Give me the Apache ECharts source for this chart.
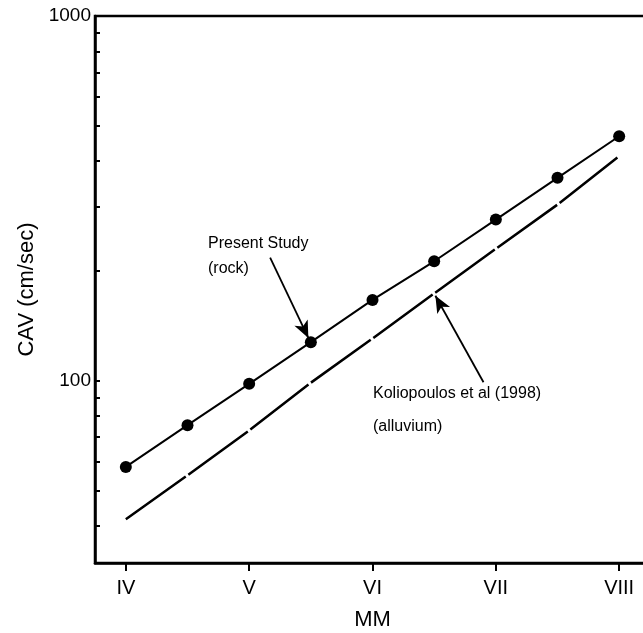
<!DOCTYPE html>
<html>
<head>
<meta charset="utf-8">
<script src="https://cdn.jsdelivr.net/npm/echarts@6/dist/echarts.min.js"></script>
<style>
html,body{margin:0;padding:0;background:#fff}
#main{width:643px;height:633px}
</style>
</head>
<body>
<div id="main"></div>
<script>
// MM intensity, half steps
var mmSteps = [4, 4.5, 5, 5.5, 6, 6.5, 7, 7.5, 8];
// Present Study (rock)
var rockCav = [58, 75.5, 98, 127.5, 166.5, 212.5, 276.5, 360, 468];
// Koliopoulos et al (1998) (alluvium)
var alluviumCav = [41.7, 55, 73, 98.7, 130.5, 173.5, 230, 304, 413];

var mmTicks = [4, 5, 6, 7, 8];
var mmLabels = ['IV', 'V', 'VI', 'VII', 'VIII'];
var cavTicks = [40, 50, 60, 70, 80, 90, 100, 200, 300, 400, 500, 600, 700, 800, 900, 1000];
var cavLabels = [100, 1000];

var tickFont = "'Liberation Sans', Arial, sans-serif";
var textFont = "'Liberation Sans', Arial, sans-serif";

function pairs(xs, ys){
	return xs.map(function(x, i){ return [x, ys[i]]; });
}

var chart = echarts.init(document.getElementById('main'));

var option = {
	backgroundColor: '#fff',
	animation: false,
	grid: {
		left: 95,
		right: -7,
		top: 16,
		bottom: 70,
		outerBoundsMode: 'none',
		containLabel: false,
		show: true,
		borderColor: '#000',
		borderWidth: 2.5
	},
	xAxis: {
		type: 'value',
		min: 3.75,
		max: 8.25,
		name: 'MM',
		nameLocation: 'middle',
		nameGap: 46,
		nameTextStyle: { fontFamily: textFont, fontSize: 22, color: '#000' },
		splitLine: { show: false },
		axisLine: { lineStyle: { color: '#000', width: 2.5 } },
		axisTick: {
			customValues: mmTicks,
			length: 8,
			lineStyle: { color: '#000', width: 2 }
		},
		axisLabel: {
			customValues: mmTicks,
			margin: 15,
			fontFamily: tickFont,
			fontSize: 20,
			color: '#000',
			formatter: function(v){ return mmLabels[mmTicks.indexOf(v)]; }
		}
	},
	yAxis: {
		type: 'log',
		logBase: 10,
		min: Math.pow(10, 1.5),
		max: 1000,
		name: 'CAV (cm/sec)',
		nameLocation: 'middle',
		nameGap: 56,
		nameTextStyle: { fontFamily: textFont, fontSize: 22, color: '#000' },
		splitLine: { show: false },
		axisLine: { lineStyle: { color: '#000', width: 2.5 } },
		axisTick: {
			customValues: cavTicks,
			inside: true,
			length: 5,
			lineStyle: { color: '#000', width: 2 }
		},
		axisLabel: {
			customValues: cavLabels,
			margin: 4,
			fontFamily: tickFont,
			fontSize: 19,
			color: '#000',
			formatter: function(v){ return String(Math.round(v)); }
		}
	},
	series: [
		{
			name: 'Present Study (rock)',
			type: 'line',
			data: pairs(mmSteps, rockCav),
			symbol: 'circle',
			symbolSize: 12,
			itemStyle: { color: '#000' },
			lineStyle: { color: '#000', width: 2 },
			markLine: {
				silent: true,
				symbol: ['none', 'arrow'],
				symbolSize: [11, 17],
				label: { show: false },
				lineStyle: { color: '#000', width: 1.8, type: 'solid' },
				data: [[ { coord: [5.17, 217.5] }, { coord: [5.48, 131] } ]]
			}
		},
		{
			name: 'Koliopoulos et al (1998) (alluvium)',
			type: 'line',
			data: pairs(mmSteps, alluviumCav),
			symbol: 'none',
			lineStyle: { color: '#000', width: 2.5, type: [73.5, 3.2] },
			markLine: {
				silent: true,
				symbol: ['none', 'arrow'],
				symbolSize: [11, 17],
				label: { show: false },
				lineStyle: { color: '#000', width: 1.8, type: 'solid' },
				data: [[ { coord: [6.9, 99] }, { coord: [6.51, 171] } ]]
			}
		}
	],
	graphic: [
		{ type: 'text', left: 208, top: 236, style: { text: 'Present Study', font: '16px ' + textFont, fill: '#000' } },
		{ type: 'text', left: 208, top: 261, style: { text: '(rock)', font: '16px ' + textFont, fill: '#000' } },
		{ type: 'text', left: 373, top: 386, style: { text: 'Koliopoulos et al (1998)', font: '16px ' + textFont, fill: '#000' } },
		{ type: 'text', left: 373, top: 419, style: { text: '(alluvium)', font: '16px ' + textFont, fill: '#000' } }
	]
};

chart.setOption(option);
</script>
</body>
</html>
